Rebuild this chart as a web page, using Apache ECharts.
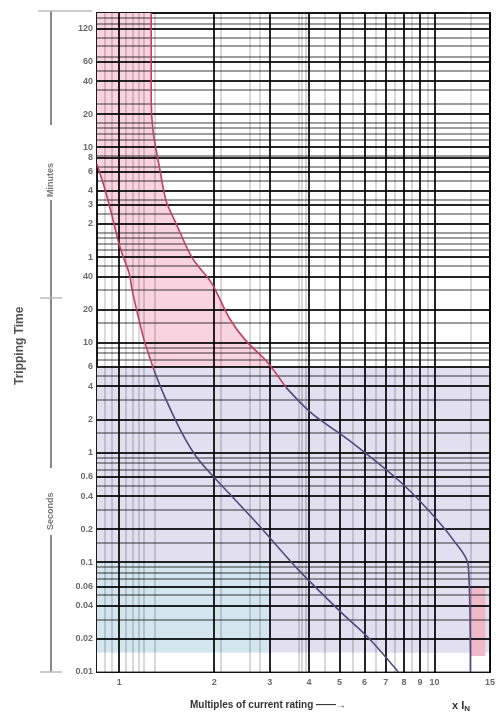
<!DOCTYPE html>
<html><head><meta charset="utf-8">
<script src="https://cdn.jsdelivr.net/npm/echarts@6/dist/echarts.min.js"></script>
<style>html,body{margin:0;padding:0;background:#fff}#c{width:496px;height:718px}</style>
</head><body><div id="c"></div>
<script>
// ---- axis ticks ----
const xTickValues = [1, 2, 3, 4, 5, 6, 7, 8, 9, 10, 15];
const xTickLabels = ['1', '2', '3', '4', '5', '6', '7', '8', '9', '10', '15'];
const xMinorGrid = [0.9, 0.95, 1.05, 1.1, 1.15, 1.2, 1.3, 2.1, 2.6, 2.8, 3.7, 3.8, 3.9, 4.5, 5.5, 6.5, 7.5, 8.5, 9.5, 13];
const minuteTicks = [120, 60, 40, 20, 10, 8, 6, 4, 3, 2, 1];          // minutes
const secondTicks = [40, 20, 10, 6, 4, 2, 1, 0.6, 0.4, 0.2, 0.1, 0.06, 0.04, 0.02, 0.01];
const yMinorGrid = [
  9000, 8000, 6000, 5000, 4000, 3000, 2000, 1500, 1000,
  900, 800, 700, 500, 400, 300, 200, 150, 100,
  90, 80, 70, 50, 30, 15,
  9, 8, 7, 5, 3, 1.5,
  0.9, 0.8, 0.7, 0.5, 0.3, 0.15,
  0.09, 0.08, 0.07, 0.05, 0.03, 0.015
];

// ---- characteristic curves (multiple of rating, seconds) ----
const lowerX = [0.85, 0.9, 0.95, 0.986, 1.02, 1.076, 1.099, 1.157, 1.2, 1.29, 1.388, 1.583, 1.791, 2.23, 2.77, 3.71, 4.97, 6.18, 7.68];
const lowerT = [420, 250, 140, 90, 65, 42.4, 29.7, 15.8, 10.4, 5.56, 3.3, 1.49, 0.846, 0.424, 0.217, 0.0846, 0.0366, 0.0204, 0.01];
const upperX = [1.263, 1.263, 1.28, 1.339, 1.408, 1.515, 1.702, 1.968, 2.229, 2.52, 2.92, 3.38, 4.08, 5.35, 7.69, 9.57, 11.5, 12.8, 13.0];
const upperT = [10000, 1585, 846, 406, 195, 121, 59.3, 34.4, 16.9, 10.4, 6.86, 3.9, 2.26, 1.29, 0.557, 0.297, 0.158, 0.094, 0.01];
const colourSplitT = 6; // curves drawn red above this time, violet below

// ---- shaded zones (x range, time range) ----
const lavenderX = [0.85, 15], lavenderT = [0.015, 6];
const blueX = [0.85, 3], blueT = [0.015, 0.1];
const whiteX = [0.85, 15], whiteT = [0.01, 0.015];
const instX = [13, 14.5], instT = [0.014, 0.06];

const X_MIN = 0.85, X_MAX = 15, T_MIN = 0.01, T_MAX = 10000;

const chart = echarts.init(document.getElementById('c'), null, {renderer: 'canvas'});

const fmtNum = v => String(v);
const labelStyle = {color: '#6a6a6a', fontSize: 9, fontFamily: 'Liberation Sans, Arial, sans-serif', fontWeight: 'bold'};

const yLabelLines = []
  .concat(minuteTicks.map(m => ({yAxis: m * 60, label: Object.assign({show: true, position: 'start', distance: 4, formatter: fmtNum(m)}, labelStyle)})))
  .concat(secondTicks.filter(s => s > T_MIN).map(s => ({yAxis: s, label: Object.assign({show: true, position: 'start', distance: 4, formatter: fmtNum(s)}, labelStyle)})));
const bottomLabel = {yAxis: T_MIN, lineStyle: {width: 0}, label: Object.assign({show: true, position: 'start', distance: 4, formatter: '0.01'}, labelStyle)};
const xLabelLines = xTickValues.map((v, i) => ({xAxis: v, label: Object.assign({show: true, position: 'start', distance: 6, formatter: xTickLabels[i]}, labelStyle)}));

function pairs(xs, ts, keep) {
  const out = [];
  for (let i = 0; i < xs.length; i++) if (keep(ts[i], i)) out.push([xs[i], ts[i]]);
  return out;
}
function splitIdx(ts) { for (let i = 0; i < ts.length; i++) if (ts[i] < colourSplitT) return i; return ts.length - 1; }
const li = splitIdx(lowerT), ui = splitIdx(upperT);

const curveBase = {type: 'line', z: 6, silent: true, showSymbol: false, smooth: 0.3};

function zoneRect(api, xr, tr, fill) {
  const a = api.coord([xr[0], tr[1]]), b = api.coord([xr[1], tr[0]]);
  return {type: 'rect', shape: {x: a[0], y: a[1], width: b[0] - a[0], height: b[1] - a[1]}, style: {fill: fill}};
}

const option = {
  animation: false,
  backgroundColor: '#fff',
  grid: {left: 97, right: 6, top: 13, bottom: 46, show: true, borderColor: '#1a1a1a', borderWidth: 2, backgroundColor: 'transparent'},
  xAxis: {type: 'log', logBase: 10, min: X_MIN, max: X_MAX, axisLine: {show: false}, axisTick: {show: false}, axisLabel: {show: false}, splitLine: {show: false}},
  yAxis: {type: 'log', logBase: 10, min: T_MIN, max: T_MAX, axisLine: {show: false}, axisTick: {show: false}, axisLabel: {show: false}, splitLine: {show: false}},
  series: [
    { // background zones + tolerance band
      type: 'custom', z: 1, silent: true, clip: true, data: [[1, 1]],
      renderItem: function (params, api) {
        const pts = [];
        for (let i = 0; i < upperX.length; i++) pts.push(api.coord([upperX[i], upperT[i]]));
        for (let i = lowerX.length - 1; i >= 0; i--) pts.push(api.coord([lowerX[i], lowerT[i]]));
        pts.push(api.coord([X_MIN, T_MAX]));
        return {type: 'group', children: [
          {type: 'polygon', shape: {points: pts}, style: {fill: '#f9d3e0'}},
          zoneRect(api, lavenderX, lavenderT, '#e2dff1'),
          zoneRect(api, blueX, blueT, '#d3e6ef'),
          zoneRect(api, whiteX, whiteT, '#ffffff'),
          zoneRect(api, instX, instT, '#eeb9c9')
        ]};
      }
    },
    { // minor grid
      type: 'line', z: 3, data: [], silent: true,
      markLine: {silent: true, z: 3, symbol: ['none', 'none'], animation: false,
        lineStyle: {color: 'rgba(0,0,0,0.38)', width: 2, type: 'solid'}, label: {show: false},
        data: yMinorGrid.map(v => ({yAxis: v})).concat(xMinorGrid.map(v => ({xAxis: v, lineStyle: {color: 'rgba(0,0,0,0.2)', width: 1.5}})))}
    },
    { // major grid with labels
      type: 'line', z: 4, data: [], silent: true,
      markLine: {silent: true, z: 4, symbol: ['none', 'none'], animation: false,
        lineStyle: {color: 'rgba(0,0,0,0.85)', width: 2, type: 'solid'}, label: {show: false},
        data: yLabelLines.concat([bottomLabel]).concat(xLabelLines)}
    },
    Object.assign({}, curveBase, {lineStyle: {width: 1.6, color: '#c2405f'}, data: pairs(lowerX, lowerT, (t, i) => i <= li)}),
    Object.assign({}, curveBase, {lineStyle: {width: 1.6, color: '#4f4a80'}, data: pairs(lowerX, lowerT, (t, i) => i >= li)}),
    Object.assign({}, curveBase, {lineStyle: {width: 1.6, color: '#c2405f'}, data: pairs(upperX, upperT, (t, i) => i <= ui)}),
    Object.assign({}, curveBase, {lineStyle: {width: 1.6, color: '#4f4a80'}, data: pairs(upperX, upperT, (t, i) => i >= ui)})
  ],
  graphic: [
    {type: 'text', x: 14, y: 385, rotation: Math.PI / 2, style: {text: 'Tripping Time', fill: '#555', font: 'bold 12px Liberation Sans, Arial, sans-serif'}},
    {type: 'line', shape: {x1: 51, y1: 11, x2: 51, y2: 125}, style: {stroke: '#888', lineWidth: 2}},
    {type: 'line', shape: {x1: 38, y1: 11, x2: 92, y2: 11}, style: {stroke: '#bbb', lineWidth: 1.5}},
    {type: 'text', x: 46, y: 197, rotation: Math.PI / 2, style: {text: 'Minutes', fill: '#777', font: 'bold 9px Liberation Sans, Arial, sans-serif'}},
    {type: 'line', shape: {x1: 51, y1: 200, x2: 51, y2: 468}, style: {stroke: '#888', lineWidth: 2}},
    {type: 'line', shape: {x1: 40, y1: 298, x2: 62, y2: 298}, style: {stroke: '#bbb', lineWidth: 1.5}},
    {type: 'text', x: 46, y: 530, rotation: Math.PI / 2, style: {text: 'Seconds', fill: '#777', font: 'bold 9px Liberation Sans, Arial, sans-serif'}},
    {type: 'line', shape: {x1: 51, y1: 535, x2: 51, y2: 672}, style: {stroke: '#888', lineWidth: 2}},
    {type: 'line', shape: {x1: 40, y1: 672, x2: 62, y2: 672}, style: {stroke: '#bbb', lineWidth: 1.5}},
    {type: 'text', x: 190, y: 700, style: {text: 'Multiples of current rating \u2014\u2014\u2192', fill: '#333', font: 'bold 10px Liberation Sans, Arial, sans-serif'}},
    {type: 'text', x: 452, y: 699, style: {text: '{a|x I}{b|N}', rich: {a: {fill: '#333', font: 'bold 11px Liberation Sans, Arial, sans-serif'}, b: {fill: '#333', font: 'bold 8px Liberation Sans, Arial, sans-serif', padding: [6, 0, 0, 0]}}}}
  ]
};
chart.setOption(option);
</script></body></html>
